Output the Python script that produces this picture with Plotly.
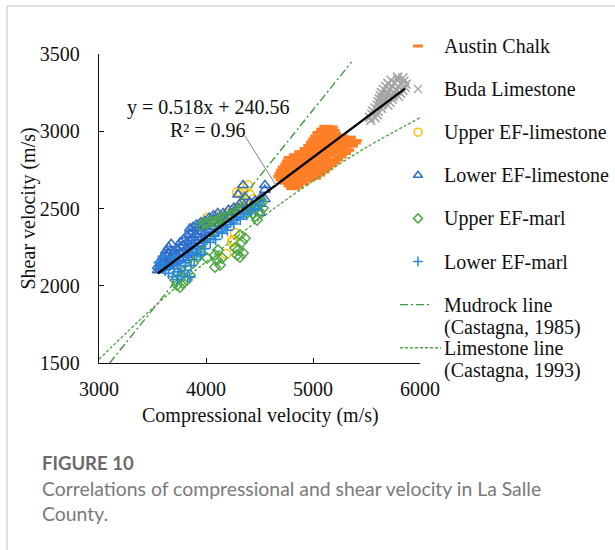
import plotly.graph_objects as go

# ---------------------------------------------------------------- canvas
FIG_W, FIG_H = 615, 550
PLOT_LEFT, PLOT_RIGHT, PLOT_TOP, PLOT_BOTTOM = 99, 420, 54, 363


def px_x(px):
    return px / FIG_W


def px_y(py):
    return 1 - py / FIG_H


SERIF = "Liberation Serif, Times New Roman, serif"
SANS = "Lato, Open Sans, sans-serif"

# ---------------------------------------------------------------- axes
vp_range = [3000, 6000]
vs_range = [1500, 3500]
vp_ticks = [3000, 4000, 5000, 6000]
vs_ticks = [1500, 2000, 2500, 3000, 3500]

# ---------------------------------------------------------------- data (m/s)
austin_vp = [
    5125, 5165,
    5095, 5150, 5185,
    5060, 5130, 5200,
    5040, 5110, 5185, 5260, 5335,
    5020, 5095, 5170, 5250, 5320, 5390,
    5000, 5075, 5155, 5235, 5310, 5380,
    4975, 5050, 5130, 5210, 5290, 5355,
    4940, 5010, 5090, 5170, 5250, 5320,
    4890, 4960, 5035, 5115, 5195, 5290,
    4840, 4910, 4985, 5065, 5145, 5250,
    4790, 4860, 4940, 5020, 5100, 5215,
    4775, 4845, 4925, 5005, 5085, 5185,
    4760, 4830, 4910, 4990, 5070, 5150,
    4735, 4815, 4895, 4975, 5055, 5120,
    4720, 4800, 4880, 4960, 5040, 5090,
    4705, 4785, 4865, 4945, 5050,
    4695, 4775, 4855, 4935, 5010,
    4715, 4790, 4865, 4950,
    4755, 4825, 4900,
    4790, 4845,
    4815,
]
austin_vs = [
    3030, 3026,
    3012, 3008, 3004,
    2990, 2986, 2982,
    2968, 2966, 2962, 2968, 2960,
    2948, 2946, 2944, 2946, 2942, 2938,
    2928, 2926, 2922, 2926, 2922, 2926,
    2906, 2908, 2902, 2906, 2902, 2906,
    2886, 2888, 2882, 2886, 2882, 2878,
    2866, 2868, 2862, 2866, 2862, 2858,
    2846, 2848, 2842, 2846, 2842, 2836,
    2828, 2826, 2822, 2826, 2822, 2816,
    2806, 2808, 2802, 2806, 2802, 2796,
    2786, 2788, 2782, 2786, 2782, 2778,
    2766, 2768, 2762, 2766, 2762, 2758,
    2746, 2748, 2742, 2746, 2742, 2738,
    2726, 2728, 2722, 2726, 2718,
    2706, 2708, 2702, 2706, 2698,
    2686, 2688, 2682, 2684,
    2666, 2668, 2662,
    2648, 2642,
    2630,
]

buda_vp = [
    5790, 5840,
    5730, 5790, 5850,
    5700, 5760, 5820, 5870,
    5680, 5740, 5800, 5860,
    5660, 5720, 5780, 5840,
    5640, 5700, 5760, 5820,
    5630, 5690, 5750, 5800,
    5620, 5680, 5740,
    5610, 5660, 5720,
    5600, 5650, 5700,
    5580, 5640,
    5560, 5610,
    5550, 5600,
    5530, 5580,
    5540,
]
buda_vs = [
    3350, 3345,
    3330, 3332, 3325,
    3310, 3312, 3308, 3305,
    3290, 3292, 3288, 3285,
    3270, 3272, 3268, 3265,
    3250, 3252, 3248, 3245,
    3230, 3232, 3228, 3225,
    3210, 3212, 3208,
    3190, 3192, 3188,
    3170, 3172, 3168,
    3150, 3148,
    3130, 3128,
    3110, 3108,
    3090, 3088,
    3070,
]

upper_ef_ls_vp = [4290, 4346, 4393, 4411, 4318, 4383, 4346, 4271, 4009, 4056,
                  4120, 4180, 4230, 4300, 4271, 4252, 4243, 4187, 4440]
upper_ef_ls_vs = [2606, 2632, 2651, 2587, 2600, 2535, 2541, 2477, 2438, 2425,
                  2455, 2470, 2490, 2505, 2341, 2296, 2283, 2205, 2560]

lower_ef_ls_vp = [
    3550, 3550,
    3575, 3575, 3575,
    3600, 3600, 3600,
    3625, 3625, 3625, 3625,
    3650, 3650, 3650, 3650,
    3675, 3675, 3675, 3675,
    3700, 3700, 3700,
    3730, 3730, 3730,
    3760, 3760, 3760, 3760,
    3790, 3790, 3790, 3790,
    3820, 3820, 3820, 3820,
    3850, 3850, 3850, 3850, 3850,
    3880, 3880, 3880, 3880, 3880,
    3910, 3910, 3910, 3910, 3910,
    3950, 3950, 3950, 3950, 3950,
    3990, 3990, 3990, 3990,
    4030, 4030, 4030, 4030,
    4070, 4070, 4070, 4070,
    4110, 4110, 4110, 4110,
    4160, 4160, 4160,
    4210, 4210, 4210,
    4260, 4260, 4260,
    4310, 4310, 4310,
    4360, 4360,
    4410, 4410,
    4460, 4460,
    4510, 4510,
    4550, 4550,
    4346, 4364, 4551, 4505, 4300,
]
lower_ef_ls_vs = [
    2100, 2125,
    2110, 2140, 2165,
    2115, 2150, 2190,
    2120, 2160, 2200, 2225,
    2130, 2170, 2210, 2250,
    2140, 2180, 2225, 2270,
    2150, 2190, 2222,
    2160, 2200, 2240,
    2170, 2210, 2250, 2282,
    2180, 2220, 2260, 2300,
    2200, 2240, 2280, 2325,
    2210, 2250, 2290, 2335, 2370,
    2230, 2270, 2310, 2350, 2380,
    2250, 2290, 2330, 2370, 2395,
    2270, 2310, 2350, 2390, 2410,
    2300, 2340, 2380, 2420,
    2320, 2360, 2400, 2440,
    2340, 2380, 2420, 2455,
    2360, 2400, 2440, 2470,
    2390, 2430, 2470,
    2410, 2450, 2490,
    2440, 2480, 2505,
    2460, 2500, 2525,
    2480, 2520,
    2500, 2540,
    2510, 2550,
    2530, 2570,
    2560, 2620,
    2651, 2574, 2651, 2470, 2590,
]

upper_ef_marl_vp = [3729, 3757, 3785, 3822, 3710, 3729, 3785, 3760, 3850, 3878,
                    3925, 3944, 4009, 4084, 4103, 4084, 4112, 4131, 4150, 4271,
                    4299, 4318, 4290, 4346, 4364, 4336, 4318, 3950, 3990, 4019,
                    4050, 4084, 4120, 4160, 4196, 4230, 4260, 4299, 4346, 4380,
                    4420, 4439, 4460, 4477, 4439, 4500, 4523, 4533, 4480]
upper_ef_marl_vs = [2005, 1992, 2017, 2037, 2037, 2082, 2089, 2060, 2070, 2147,
                    2186, 2218, 2179, 2121, 2166, 2199, 2231, 2134, 2180, 2244,
                    2231, 2186, 2199, 2212, 2308, 2283, 2328, 2390, 2405, 2405,
                    2420, 2412, 2430, 2440, 2444, 2460, 2470, 2490, 2503, 2470,
                    2490, 2470, 2450, 2425, 2509, 2480, 2541, 2503, 2520]

lower_ef_marl_vp = [3560, 3590, 3620, 3650, 3660, 3690, 3700, 3720, 3730, 3740,
                    3760, 3770, 3780, 3800, 3810, 3830, 3840, 3860, 3870, 3890,
                    3910, 3930, 3950, 3970, 3990, 4010, 4040, 4070, 4090, 4120,
                    4150, 4180, 4200, 4230, 4260, 4290, 4320, 4350, 4380, 4420,
                    4460, 4500, 3600, 3692, 3850, 3925]
lower_ef_marl_vs = [2150, 2120, 2100, 2080, 2140, 2060, 2110, 2170, 2040, 2090,
                    2130, 2060, 2190, 2100, 2150, 2060, 2200, 2130, 2240, 2170,
                    2210, 2260, 2200, 2280, 2240, 2300, 2280, 2320, 2300, 2350,
                    2340, 2380, 2360, 2410, 2400, 2440, 2430, 2470, 2460, 2490,
                    2500, 2520, 2190, 2186, 2056, 2218]

# Castagna reference lines (tabulated)
mudrock_vp = [3100, 5360]
mudrock_vs = [1500, 3448]
limestone_vp = [3000, 3500, 4000, 4500, 5000, 5500, 6000]
limestone_vs = [1524, 1854, 2155, 2430, 2677, 2896, 3087]

# least-squares fit over all samples
slope, intercept, r2 = 0.518, 240.56, 0.96
trend_vp = [3550, 5860]
trend_vs = [slope * v + intercept for v in trend_vp]

# ---------------------------------------------------------------- styles
ORANGE = "#FF7F27"
GRAY = "#A5A5A5"
YELLOW = "#FFC000"
BLUE_TRI = "#2F6FCB"
GREEN = "#4EA843"
BLUE_PLUS = "#2A87DE"
GREEN_DARK = "#3C9A3C"

series = [
    dict(name="Austin Chalk", x=austin_vp, y=austin_vs,
         marker=dict(symbol="line-ew", size=10, color=ORANGE,
                     line=dict(width=3.6, color=ORANGE)),
         legend_marker=dict(symbol="line-ew", size=7, color=ORANGE,
                            line=dict(width=3, color=ORANGE))),
    dict(name="Buda Limestone", x=buda_vp, y=buda_vs,
         marker=dict(symbol="x-thin", size=9, color=GRAY,
                     line=dict(width=1.6, color=GRAY)),
         legend_marker=dict(symbol="x-thin", size=8, color=GRAY,
                            line=dict(width=1.4, color=GRAY))),
    dict(name="Upper EF-limestone", x=upper_ef_ls_vp, y=upper_ef_ls_vs,
         marker=dict(symbol="circle-open", size=9, color=YELLOW,
                     line=dict(width=1.5, color=YELLOW)),
         legend_marker=dict(symbol="circle-open", size=8, color=YELLOW,
                            line=dict(width=1.5, color=YELLOW))),
    dict(name="Lower EF-limestone", x=lower_ef_ls_vp, y=lower_ef_ls_vs,
         marker=dict(symbol="triangle-up-open", size=9.5, color=BLUE_TRI,
                     line=dict(width=1.5, color=BLUE_TRI)),
         legend_marker=dict(symbol="triangle-up-open", size=8, color=BLUE_TRI,
                            line=dict(width=1.5, color=BLUE_TRI))),
    dict(name="Upper EF-marl", x=upper_ef_marl_vp, y=upper_ef_marl_vs,
         marker=dict(symbol="diamond-open", size=8, color=GREEN,
                     line=dict(width=1.5, color=GREEN)),
         legend_marker=dict(symbol="diamond-open", size=7, color=GREEN,
                            line=dict(width=1.5, color=GREEN))),
    dict(name="Lower EF-marl", x=lower_ef_marl_vp, y=lower_ef_marl_vs,
         marker=dict(symbol="cross-thin-open", size=8, color=BLUE_PLUS,
                     line=dict(width=1.6, color=BLUE_PLUS)),
         legend_marker=dict(symbol="cross-thin-open", size=7, color=BLUE_PLUS,
                            line=dict(width=1.5, color=BLUE_PLUS))),
]

ref_lines = [
    dict(name=["Mudrock line", "(Castagna, 1985)"], x=mudrock_vp, y=mudrock_vs,
         line=dict(color=GREEN_DARK, width=1.4, dash="8px,3px,2px,3px"),
         shape="linear", sample=(400, 430)),
    dict(name=["Limestone line", "(Castagna, 1993)"], x=limestone_vp, y=limestone_vs,
         line=dict(color=GREEN, width=1.4, dash="3px,2px"),
         shape="spline", sample=(400, 441)),
]

fig = go.Figure()

for s in series:
    fig.add_trace(go.Scatter(x=s["x"], y=s["y"], mode="markers", name=s["name"],
                             marker=s["marker"], showlegend=False, cliponaxis=False))

for r in ref_lines:
    fig.add_trace(go.Scatter(x=r["x"], y=r["y"], mode="lines", name=r["name"][0],
                             line=dict(shape=r["shape"], **r["line"]), showlegend=False))

fig.add_trace(go.Scatter(x=trend_vp, y=trend_vs, mode="lines", name="Linear fit",
                         line=dict(color="black", width=2.4), showlegend=False))

# ---------------------------------------------------------------- legend (pixel overlay)
LEG_MARK_X, LEG_TEXT_X = 418, 442
leg_rows = [46 + 43.1 * i for i in range(len(series) + len(ref_lines))]
TXT = dict(family=SERIF, size=20, color="#111")
annotations = []

for i, s in enumerate(series):
    fig.add_trace(go.Scatter(x=[LEG_MARK_X], y=[leg_rows[i]], mode="markers",
                             marker=s["legend_marker"], xaxis="x2", yaxis="y2",
                             showlegend=False, hoverinfo="skip", cliponaxis=False))
    annotations.append(dict(x=LEG_TEXT_X, y=leg_rows[i], xref="x2", yref="y2",
                            text=s["name"], showarrow=False, xanchor="left",
                            yanchor="middle", font=TXT))

for j, r in enumerate(ref_lines):
    row = leg_rows[len(series) + j]
    fig.add_trace(go.Scatter(x=list(r["sample"]), y=[row, row], mode="lines",
                             line=r["line"], xaxis="x2", yaxis="y2", showlegend=False,
                             hoverinfo="skip", cliponaxis=False))
    for k, part in enumerate(r["name"]):
        annotations.append(dict(x=LEG_TEXT_X, y=row + 23 * k, xref="x2", yref="y2",
                                text=part, showarrow=False, xanchor="left",
                                yanchor="middle", font=TXT))

# ---------------------------------------------------------------- fit label
annotations.append(dict(x=4019, y=3156, xref="x", yref="y", xanchor="center",
                        yanchor="middle", text=f"y = {slope}x + {intercept}",
                        showarrow=False, font=TXT))
annotations.append(dict(x=4019, y=3007, xref="x", yref="y", xanchor="center",
                        yanchor="middle", text=f"R² = {r2}", showarrow=False, font=TXT))

# axis titles
annotations.append(dict(x=px_x((PLOT_LEFT + PLOT_RIGHT) / 2 + 1), y=px_y(415),
                        xref="paper", yref="paper", xanchor="center", yanchor="middle",
                        text="Compressional velocity (m/s)", showarrow=False, font=TXT))
annotations.append(dict(x=px_x(28), y=px_y((PLOT_TOP + PLOT_BOTTOM) / 2),
                        xref="paper", yref="paper", xanchor="center", yanchor="middle",
                        text="Shear velocity (m/s)", showarrow=False, textangle=-90,
                        font=TXT))

# caption
annotations.append(dict(x=px_x(40), y=px_y(463), xref="paper", yref="paper",
                        text="<b>FIGURE 10</b>", showarrow=False, xanchor="left",
                        yanchor="middle", font=dict(family=SANS, size=18.5, color="#6a6a6a")))
caption_lines = ["Correlations of compressional and shear velocity in La Salle", "County."]
for k, line in enumerate(caption_lines):
    annotations.append(dict(x=px_x(40), y=px_y(488 + 25 * k), xref="paper", yref="paper",
                            text=line, showarrow=False, xanchor="left", yanchor="middle",
                            font=dict(family=SANS, size=19.4, color="#7a7a7a")))

shapes = [
    # leader from the fit label to the line
    dict(type="line", xref="x", yref="y", x0=4365, y0=2968, x1=4654, y1=2651,
         line=dict(color="#7f7f7f", width=1)),
    # card border
    dict(type="line", xref="paper", yref="paper", x0=px_x(7), y0=px_y(6), x1=1, y1=px_y(6),
         line=dict(color="#d4d4d4", width=1.5)),
    dict(type="line", xref="paper", yref="paper", x0=px_x(7), y0=0, x1=px_x(7), y1=px_y(6),
         line=dict(color="#d4d4d4", width=1.5)),
]

axis_common = dict(showgrid=False, zeroline=False, showline=True, linecolor="#111",
                   linewidth=1.3, ticks="inside", ticklen=5, tickwidth=1.3,
                   tickcolor="#111", automargin=False,
                   tickfont=dict(family=SERIF, size=20, color="#111"))

fig.update_layout(
    template="none",
    width=FIG_W, height=FIG_H,
    margin=dict(l=0, r=0, t=0, b=0, pad=0, autoexpand=False),
    paper_bgcolor="white", plot_bgcolor="rgba(0,0,0,0)",
    showlegend=False,
    xaxis=dict(domain=[px_x(PLOT_LEFT), px_x(PLOT_RIGHT)], range=vp_range,
               tickvals=vp_ticks, ticklabelstandoff=8, **axis_common),
    yaxis=dict(domain=[px_y(PLOT_BOTTOM), px_y(PLOT_TOP)], range=vs_range,
               tickvals=vs_ticks, ticklabelstandoff=14, **axis_common),
    xaxis2=dict(domain=[0, 1], range=[0, FIG_W], visible=False, anchor="y2",
                automargin=False),
    yaxis2=dict(domain=[0, 1], range=[FIG_H, 0], visible=False, anchor="x2",
                automargin=False),
    annotations=annotations,
    shapes=shapes,
)

fig.write_html("out.html")
